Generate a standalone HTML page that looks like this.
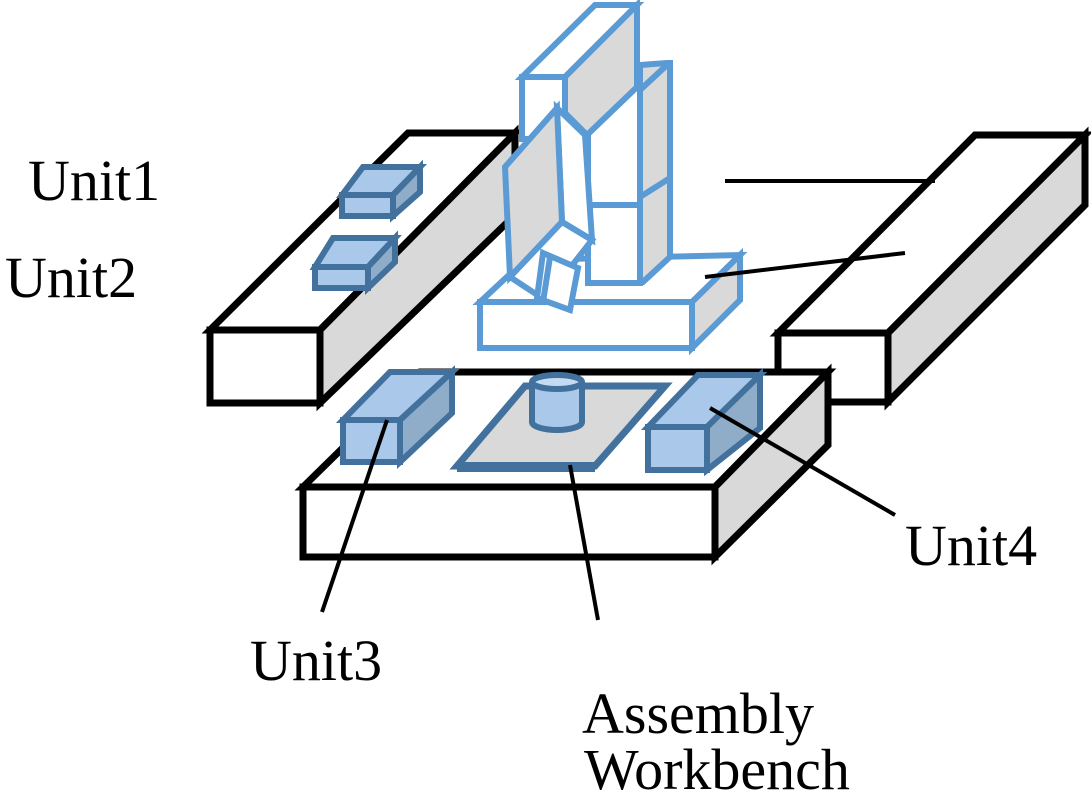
<!DOCTYPE html>
<html><head><style>html,body{margin:0;padding:0;background:#fff}svg{display:block}</style></head>
<body>
<svg width="1091" height="795" viewBox="0 0 1091 795" xmlns="http://www.w3.org/2000/svg">
<g stroke="#000" stroke-width="7" stroke-linejoin="miter">
<polygon points="210,330 408,133 515,133 320,330" fill="#fff"/>
<polygon points="320,330 515,133 515,215 320,403" fill="#d9d9d9"/>
<rect x="210" y="330" width="110" height="73" fill="#fff"/>
<polygon points="778,333 975,135 1085,135 888,333" fill="#fff"/>
<polygon points="888,333 1085,135 1085,205 888,402" fill="#d9d9d9"/>
<rect x="778" y="333" width="110" height="69" fill="#fff"/>
</g>
<g stroke="#41719c" stroke-width="6" stroke-linejoin="miter">
<polygon points="342,195 363,167 420,167 393,195" fill="#a9c8ea"/>
<polygon points="393,195 420,167 420,192 393,216" fill="#8fadc9"/>
<rect x="342" y="195" width="51" height="21" fill="#a9c8ea"/>
<polygon points="315,267 333,238 395,238 368,267" fill="#a9c8ea"/>
<polygon points="368,267 395,238 395,262 368,288" fill="#8fadc9"/>
<rect x="315" y="267" width="53" height="21" fill="#a9c8ea"/>
</g>
<g stroke="#5b9bd5" stroke-width="6" stroke-linejoin="miter">
<polygon points="480,302 525,260 740,255 692,302" fill="#fff"/>
<polygon points="692,302 740,255 740,300 692,348" fill="#d9d9d9"/>
<rect x="480" y="302" width="212" height="46" fill="#fff"/>
<!-- column -->
<polygon points="640,65 667,63 670,63 670,257 643,282 640,282" fill="#d9d9d9"/>
<line x1="640" y1="90" x2="667" y2="65"/>
<line x1="640" y1="197" x2="670" y2="178"/>
<rect x="588" y="87" width="52" height="196" fill="#fff"/>
<line x1="588" y1="205" x2="640" y2="205"/>
<!-- upper box -->
<polygon points="522,77 595,5 637,5 565,77" fill="#fff"/>
<polygon points="565,77 637,5 637,87 587,135 565,113" fill="#d9d9d9"/>
<rect x="522" y="77" width="43" height="62" fill="#fff"/>
<!-- arm -->
<polygon points="557,108 585,135 592,240 562,222" fill="#fff"/>
<polygon points="505,167 557,108 562,222 510,277" fill="#d9d9d9"/>
<polygon points="510,277 562,222 592,240 545,300" fill="#fff"/>
<polygon points="543,253 578,268 570,310 537,298" fill="#fff"/>
<line x1="550" y1="257" x2="543" y2="302"/>
</g>
<g stroke="#000" stroke-width="7" stroke-linejoin="miter">
<polygon points="303,487 420,372 828,372 715,487" fill="#fff"/>
<polygon points="715,487 828,372 828,445 715,557" fill="#d9d9d9"/>
<rect x="303" y="487" width="412" height="70" fill="#fff"/>
</g>
<g stroke="#41719c" stroke-width="6" stroke-linejoin="miter">
<polygon points="343,420 390,372 452,372 400,420" fill="#a9c8ea"/>
<polygon points="400,420 452,372 452,413 400,462" fill="#8fadc9"/>
<rect x="343" y="420" width="57" height="42" fill="#a9c8ea"/>
<polygon points="648,427 698,375 760,375 707,427" fill="#a9c8ea"/>
<polygon points="707,427 760,375 760,428 707,470" fill="#8fadc9"/>
<rect x="648" y="427" width="59" height="43" fill="#a9c8ea"/>
<polygon points="457,466 525,386 665,386 595,466" fill="#d9d9d9" stroke-width="7"/>
<line x1="457" y1="467" x2="595" y2="467" stroke-width="10"/>
<rect x="532" y="382" width="50" height="42" fill="#a9c8ea" stroke="none"/>
<path d="M532,382 V422 A25,8 0 0 0 582,422 V382" fill="#a9c8ea"/>
<ellipse cx="557" cy="382" rx="25" ry="7" fill="#c5dbf2"/>
</g>
<g stroke="#000" stroke-width="4" fill="none">
<line x1="725" y1="181" x2="935" y2="181"/>
<line x1="705" y1="277" x2="905" y2="253"/>
<line x1="387" y1="420" x2="322" y2="612"/>
<line x1="570" y1="465" x2="598" y2="620"/>
<line x1="710" y1="408" x2="895" y2="515"/>
</g>
<g font-family="Liberation Serif, serif" font-size="58" fill="#000">
<text x="28" y="200">Unit1</text>
<text x="5" y="297">Unit2</text>
<text x="250" y="680">Unit3</text>
<text x="905" y="565">Unit4</text>
<text x="582" y="733">Assembly</text>
<text x="584" y="789">Workbench</text>
</g>
</svg>
</body></html>
